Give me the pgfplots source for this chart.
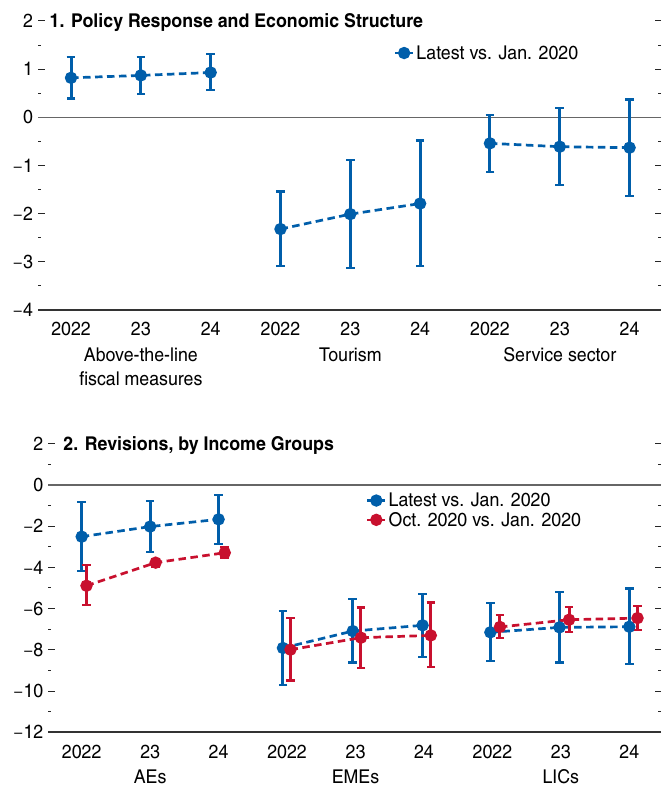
\documentclass[border=0pt]{standalone}
\usepackage{fontspec}
\setmainfont{texgyreheroscn}[Extension=.otf, UprightFont=*-regular, BoldFont=*-bold, ItalicFont=*-italic, BoldItalicFont=*-bolditalic, FakeStretch=1.14]
\usepackage{pgfplots}
\pgfplotsset{compat=1.18}
\definecolor{imfblue}{RGB}{0,94,170}
\definecolor{imfred}{RGB}{200,16,46}
\newcommand\fs{\fontsize{19}{24}\selectfont}

\pgfplotsset{
 panel/.style={
  scale only axis,
  separate axis lines,
  axis x line*=bottom,
  x axis line style={draw=black!80, line width=1.6pt, -},
  y axis line style={draw=none},
  xtick={0,...,8},
  xticklabels={2022,23,24,2022,23,24,2022,23,24},
  xtick style={draw=none},
  xticklabel style={anchor=base, yshift=-26pt, inner sep=0pt},
  yticklabel pos=left,
  yticklabel style={xshift=-1.5pt},
  minor y tick num=1,
  ytick style={black!85, line width=1pt},
  minor y tick style={black!85, line width=1pt},
  major tick length=6.5pt, minor tick length=3pt,
  tick align=inside,
  tick label style={font=\fs},
  clip=false,
  legend style={draw=none, fill=none, font=\fs, inner sep=0pt, cells={anchor=west}},
  legend image code/.code={\draw[mark repeat=2,mark phase=2,##1,solid] plot coordinates {(0pt,0pt) (9pt,0pt) (18pt,0pt)};},
 },
 ser/.style={color=#1, line width=2.7pt, dash pattern=on 7.5pt off 4.5pt, mark=*, mark size=4.8pt, mark options={solid}},
 eb/.style={error bars/.cd, y dir=both, y explicit, error bar style={line width=3pt, solid, color=#1}, error mark options={rotate=90, mark size=4.3pt, line width=2.3pt, color=#1, solid}},
}

\begin{document}
\begin{tikzpicture}[x=1pt,y=1pt]
\path[use as bounding box] (0,0) rectangle (661,786);

% ---------------- Panel 1 ----------------
\begin{axis}[panel, at={(38pt,476pt)}, anchor=south west, width=623pt, height=289pt,
  xmin=-0.473, xmax=8.45, ymin=-4, ymax=2,
  ytick={-4,...,2}, yticklabels={−4,−3,−2,−1,0,1,2},
  legend style={at={(axis cs:4.62,1.335)}, anchor=west}]
\draw[black!60, line width=1.3pt] (axis cs:-0.473,0) -- (axis cs:8.45,0);
\addplot[ser=imfblue, eb=imfblue] table[x=x, y=y, y error plus=ep, y error minus=em] {
x y ep em
0 0.82 0.43 0.43
1 0.87 0.38 0.38
2 0.93 0.38 0.36
};
\addlegendentry{Latest vs. Jan. 2020}
\addplot[forget plot, ser=imfblue, eb=imfblue] table[x=x, y=y, y error plus=ep, y error minus=em] {
x y ep em
3 -2.32 0.78 0.77
4 -2.01 1.12 1.12
5 -1.79 1.31 1.30
};
\addplot[forget plot, ser=imfblue, eb=imfblue] table[x=x, y=y, y error plus=ep, y error minus=em] {
x y ep em
6 -0.54 0.59 0.59
7 -0.61 0.80 0.79
8 -0.63 1.00 1.00
};
\node[anchor=base west, font=\fs\bfseries, inner sep=0pt] at ([xshift=11.5pt, yshift=-6.8pt]axis cs:-0.473,2) {1. Policy Response and Economic Structure};
\node[anchor=base, font=\fs, align=center, inner sep=0pt] at ([yshift=-76pt]axis cs:1,-4) {Above-the-line\\fiscal measures};
\node[anchor=base, font=\fs, inner sep=0pt] at ([yshift=-52pt]axis cs:4,-4) {Tourism};
\node[anchor=base, font=\fs, inner sep=0pt] at ([yshift=-52pt]axis cs:7,-4) {Service sector};
\end{axis}

% ---------------- Panel 2 ----------------
\begin{axis}[panel, at={(48.3pt,53.7pt)}, anchor=south west, width=612.7pt, height=288.6pt,
  xmin=-0.488, xmax=8.463, ymin=-12, ymax=2,
  ytick={-12,-10,...,2}, yticklabels={−12,−10,−8,−6,−4,−2,0,2},
  legend style={at={(axis cs:4.15,-1.23)}, anchor=west}]
\draw[black!60, line width=1.3pt] (axis cs:-0.488,0) -- (axis cs:8.463,0);
\addplot[ser=imfblue, eb=imfblue] table[x=x, y=y, y error plus=ep, y error minus=em] {
x y ep em
0.00 -2.51 1.68 1.68
1.00 -2.02 1.24 1.23
2.00 -1.67 1.18 1.19
};
\addlegendentry{Latest vs. Jan. 2020}
\addplot[forget plot, ser=imfblue, eb=imfblue] table[x=x, y=y, y error plus=ep, y error minus=em] {
x y ep em
2.94 -7.91 1.79 1.81
3.96 -7.09 1.56 1.53
4.98 -6.81 1.53 1.54
};
\addplot[forget plot, ser=imfblue, eb=imfblue] table[x=x, y=y, y error plus=ep, y error minus=em] {
x y ep em
5.97 -7.15 1.41 1.39
6.98 -6.91 1.72 1.70
8.00 -6.88 1.85 1.79
};
\addplot[ser=imfred, eb=imfred] table[x=x, y=y, y error plus=ep, y error minus=em] {
x y ep em
0.07 -4.89 0.99 0.95
1.08 -3.77 0.18 0.19
2.09 -3.29 0.29 0.24
};
\addlegendentry{Oct. 2020 vs. Jan. 2020}
\addplot[forget plot, ser=imfred, eb=imfred] table[x=x, y=y, y error plus=ep, y error minus=em] {
x y ep em
3.05 -7.99 1.52 1.49
4.08 -7.41 1.47 1.47
5.10 -7.30 1.59 1.53
};
\addplot[forget plot, ser=imfred, eb=imfred] table[x=x, y=y, y error plus=ep, y error minus=em] {
x y ep em
6.11 -6.89 0.58 0.55
7.12 -6.54 0.63 0.61
8.12 -6.46 0.60 0.59
};
\node[anchor=base west, font=\fs\bfseries, inner sep=0pt] at ([xshift=15pt, yshift=-6.8pt]axis cs:-0.488,2) {2. Revisions, by Income Groups};
\node[anchor=base, font=\fs, inner sep=0pt] at ([yshift=-51pt]axis cs:1,-12) {AEs};
\node[anchor=base, font=\fs, inner sep=0pt] at ([yshift=-51pt]axis cs:4,-12) {EMEs};
\node[anchor=base, font=\fs, inner sep=0pt] at ([yshift=-51pt]axis cs:7,-12) {LICs};
\end{axis}
\end{tikzpicture}
\end{document}
